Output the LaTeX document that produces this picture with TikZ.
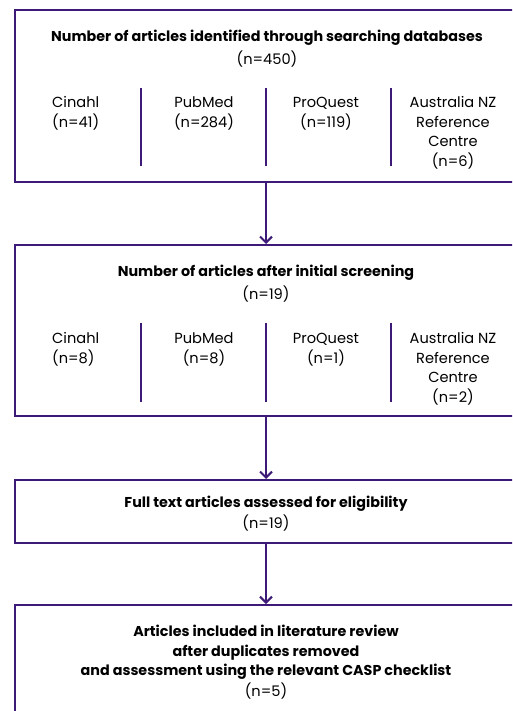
\documentclass[tikz,border=0pt]{standalone}
\usepackage{fontspec}
\setmainfont{Poppins}
\usetikzlibrary{arrows.meta}
\definecolor{lc}{HTML}{3E1A78}
\tikzset{
  box/.style={draw=lc, line width=2pt, rectangle, inner sep=0pt},
  arr/.style={draw=lc, line width=2pt, -{Straight Barb[length=6pt,width=12pt,line width=2pt]}},
  div/.style={draw=lc, line width=2pt},
  hd/.style={font=\fontsize{14.3}{19.6}\selectfont\bfseries, align=center, inner sep=0pt},
  tx/.style={font=\fontsize{14.6}{19.6}\selectfont, align=center, inner sep=0pt},
}
\begin{document}
\begin{tikzpicture}[x=1pt,y=-1pt]
\useasboundingbox (0,0) rectangle (512,711);
\clip (0,0) rectangle (512,711);
\fill[white] (0,0) rectangle (512,711);
% boxes
\node[box, minimum width=502pt, minimum height=172pt] (b1) at (266,96) {};
\node[box, minimum width=502pt, minimum height=171pt] (b2) at (266,330.5) {};
\node[box, minimum width=502pt, minimum height=63pt] (b3) at (266,511.5) {};
\node[box, minimum width=502pt, minimum height=120pt] (b4) at (266,665) {};
% box 1 text
\node[hd] (h1) at (267,37.5) {Number of articles identified through searching databases};
\node[tx] (n1) at (267,59) {(n=450)};
\node[tx, anchor=north west, align=left] (c11) at (52,93.5) {\strut Cinahl\\(n=41)};
\node[tx, anchor=north] (c12) at (204,93.5) {\strut PubMed\\(n=284)};
\node[tx, anchor=north] (c13) at (326,93.5) {\strut ProQuest\\(n=119)};
\node[tx, anchor=north] (c14) at (453,93.5) {\strut Australia NZ\\Reference\\Centre\\(n=6)};
\draw[div] (141,88) -- (141,166);
\draw[div] (266,88) -- (266,166);
\draw[div] (391,88) -- (391,166);
% box 2 text
\node[hd] (h2) at (266,272.5) {Number of articles after initial screening};
\node[tx] (n2) at (266,294) {(n=19)};
\node[tx, anchor=north west, align=left] (c21) at (52,329.5) {\strut Cinahl\\(n=8)};
\node[tx, anchor=north] (c22) at (204,329.5) {\strut PubMed\\(n=8)};
\node[tx, anchor=north] (c23) at (326,329.5) {\strut ProQuest\\(n=1)};
\node[tx, anchor=north] (c24) at (453,329.5) {\strut Australia NZ\\Reference\\Centre\\(n=2)};
\draw[div] (141,323) -- (141,402);
\draw[div] (266,323) -- (266,402);
\draw[div] (391,323) -- (391,402);
% box 3 text
\node[hd] (h3) at (266,503.5) {Full text articles assessed for eligibility};
\node[tx] (n3) at (266,523) {(n=19)};
% box 4 text
\node[hd, anchor=north] (h4) at (266,625) {Articles included in literature review\\after duplicates removed\\and assessment using the relevant CASP checklist};
\node[tx] (n4) at (266,691) {(n=5)};
% arrows
\draw[arr] (b1.south) -- (b2.north);
\draw[arr] (b2.south) -- (b3.north);
\draw[arr] (b3.south) -- (b4.north);
\end{tikzpicture}
\end{document}
